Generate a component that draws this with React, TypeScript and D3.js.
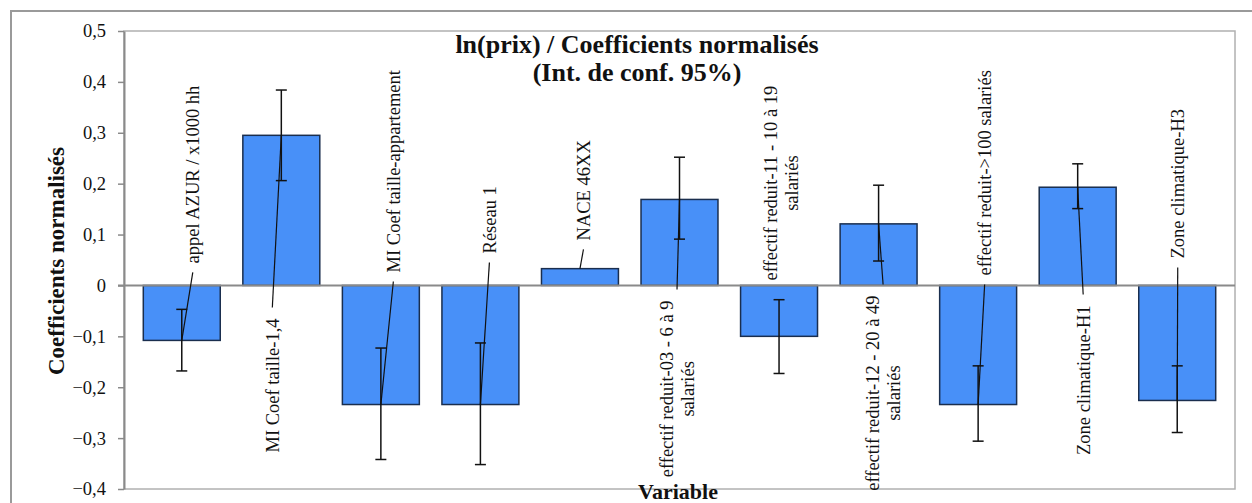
import React, { useEffect, useRef } from "react";
import * as d3 from "d3";

const categories = [
  "appel AZUR / x1000 hh",
  "MI Coef taille-1,4",
  "MI Coef taille-appartement",
  "Réseau 1",
  "NACE 46XX",
  "effectif reduit-03 - 6 à 9\nsalariés",
  "effectif reduit-11 - 10 à 19\nsalariés",
  "effectif reduit-12 - 20 à 49\nsalariés",
  "effectif reduit->100 salariés",
  "Zone climatique-H1",
  "Zone climatique-H3",
];
const coefficients = [-0.108, 0.295, -0.234, -0.234, 0.033, 0.169, -0.1, 0.121, -0.234, 0.193, -0.226];
const ciUpper: (number | null)[] = [-0.047, 0.384, -0.123, -0.113, null, 0.252, -0.028, 0.197, -0.158, 0.239, -0.158];
const ciLower: (number | null)[] = [-0.168, 0.206, -0.342, -0.352, null, 0.091, -0.173, 0.048, -0.306, 0.151, -0.289];
const yTicks = [-0.4, -0.3, -0.2, -0.1, 0, 0.1, 0.2, 0.3, 0.4, 0.5];
const titleLines = ["ln(prix) / Coefficients normalisés", "(Int. de conf. 95%)"];
const yAxisTitle = "Coefficients normalisés";
const xAxisTitle = "Variable";

// data-label layout (px): horizontal shift from bar centre, gap from the zero line
const labelDx = [11, -9, 12.5, 9, 3.5, -2.5, 1.5, 4.5, 6.5, 5.5, 0.5];
const labelGap = [22, 33, 13, 32, 45, 15, 5, 10, 10, 20, 27];

const FONT = "'Liberation Serif', 'Times New Roman', serif";

export default function App() {
  const ref = useRef<SVGSVGElement>(null);

  useEffect(() => {
    const W = 1252;
    const H = 503;
    const svg = d3.select(ref.current);
    svg.selectAll("*").remove();

    const plot = { left: 124, right: 1235, top: 31, bottom: 489 };
    const y = d3.scaleLinear().domain([-0.4, 0.5]).range([plot.bottom, plot.top]);
    const x = d3
      .scaleBand<string>()
      .domain(categories)
      .range([132, 1227])
      .paddingInner(0.227)
      .paddingOuter(0.1135);
    const y0 = y(0);

    svg.append("rect").attr("width", W).attr("height", H).attr("fill", "#fff");

    // outer chart frame
    svg
      .append("path")
      .attr("d", `M11,${H + 10}V11H${W + 10}`)
      .attr("fill", "none")
      .attr("stroke", "#9a9a9a")
      .attr("stroke-width", 2);

    // plot frame
    svg
      .append("rect")
      .attr("x", plot.left)
      .attr("y", plot.top)
      .attr("width", plot.right - plot.left)
      .attr("height", plot.bottom - plot.top)
      .attr("fill", "none")
      .attr("stroke", "#b0b0b0")
      .attr("stroke-width", 1.5);

    // bars
    svg
      .append("g")
      .selectAll("rect")
      .data(categories)
      .join("rect")
      .attr("x", (d) => x(d)!)
      .attr("width", x.bandwidth())
      .attr("y", (_, i) => Math.min(y(coefficients[i]), y0))
      .attr("height", (_, i) => Math.abs(y(coefficients[i]) - y0))
      .attr("fill", "#4890F8")
      .attr("stroke", "#1a2e4e")
      .attr("stroke-width", 1.5);

    // zero line
    svg
      .append("line")
      .attr("x1", plot.left - 6)
      .attr("x2", plot.right)
      .attr("y1", y0)
      .attr("y2", y0)
      .attr("stroke", "#8a8a8a")
      .attr("stroke-width", 2);

    // axis
    const fmt = (d: number) => (Math.abs(d) < 1e-9 ? "0" : d3.format(".1f")(d).replace(".", ","));
    const axis = d3
      .axisLeft(y)
      .tickValues(yTicks)
      .tickSize(6)
      .tickSizeOuter(0)
      .tickPadding(12)
      .tickFormat((d) => fmt(d as number));
    const g = svg.append("g").attr("transform", `translate(${plot.left},0)`).call(axis);
    g.select(".domain").attr("stroke", "#8a8a8a").attr("stroke-width", 2);
    g.selectAll(".tick line").attr("stroke", "#8a8a8a").attr("stroke-width", 1.5);
    g.selectAll(".tick text")
      .attr("font-family", FONT)
      .attr("font-size", 18.5)
      .attr("fill", "#111");

    const leaders = svg.append("g");
    const errs = svg.append("g");
    const labels = svg.append("g");

    categories.forEach((cat, i) => {
      const v = coefficients[i];
      const cx = x(cat)! + x.bandwidth() / 2;
      const lx = cx + labelDx[i];
      const above = v < 0.05;
      const gap = labelGap[i];
      const lines = cat.split("\n");
      const lineStep = 21;

      const texts = lines.map((ln) =>
        labels
          .append("text")
          .attr("font-family", FONT)
          .attr("font-size", 18.5)
          .attr("fill", "#111")
          .attr("text-anchor", "middle")
          .attr("dy", "0.35em")
          .text(ln)
      );
      const maxLen = Math.max(...texts.map((t) => (t.node() as SVGTextElement).getComputedTextLength()));
      const centerY = above ? y0 - gap - maxLen / 2 : y0 + gap + maxLen / 2;
      texts.forEach((t, j) => {
        const tx = lx + (j - (lines.length - 1) / 2) * lineStep;
        t.attr("transform", `translate(${tx},${centerY}) rotate(-90)`);
      });

      if (gap > 8) {
        const sy = above ? y0 - gap + 9 : y0 + gap - 11;
        leaders
          .append("line")
          .attr("x1", lx)
          .attr("y1", sy)
          .attr("x2", cx)
          .attr("y2", y(v))
          .attr("stroke", "#111")
          .attr("stroke-width", 1.2);
      }

      const hi = ciUpper[i];
      const lo = ciLower[i];
      if (hi !== null && lo !== null) {
        const cap = 5.5;
        errs
          .append("line")
          .attr("x1", cx)
          .attr("x2", cx)
          .attr("y1", y(hi))
          .attr("y2", y(lo))
          .attr("stroke", "#111")
          .attr("stroke-width", 1.5);
        [hi, lo].forEach((e) =>
          errs
            .append("line")
            .attr("x1", cx - cap)
            .attr("x2", cx + cap)
            .attr("y1", y(e))
            .attr("y2", y(e))
            .attr("stroke", "#111")
            .attr("stroke-width", 1.5)
        );
      }
    });

    // title
    titleLines.forEach((t, i) => {
      svg
        .append("text")
        .attr("x", 637)
        .attr("y", 53 + i * 28)
        .attr("text-anchor", "middle")
        .attr("font-family", FONT)
        .attr("font-weight", "bold")
        .attr("font-size", 26)
        .attr("fill", "#111")
        .text(t);
    });

    // axis titles
    svg
      .append("text")
      .attr("transform", `translate(64,261) rotate(-90)`)
      .attr("text-anchor", "middle")
      .attr("font-family", FONT)
      .attr("font-weight", "bold")
      .attr("font-size", 23)
      .attr("fill", "#111")
      .text(yAxisTitle);

    svg
      .append("text")
      .attr("x", 678)
      .attr("y", 499)
      .attr("text-anchor", "middle")
      .attr("font-family", FONT)
      .attr("font-weight", "bold")
      .attr("font-size", 22)
      .attr("fill", "#111")
      .text(xAxisTitle);
  }, []);

  return (
    <svg
      ref={ref}
      width={1252}
      height={503}
      style={{ position: "absolute", left: 0, top: 0, display: "block" }}
    />
  );
}
